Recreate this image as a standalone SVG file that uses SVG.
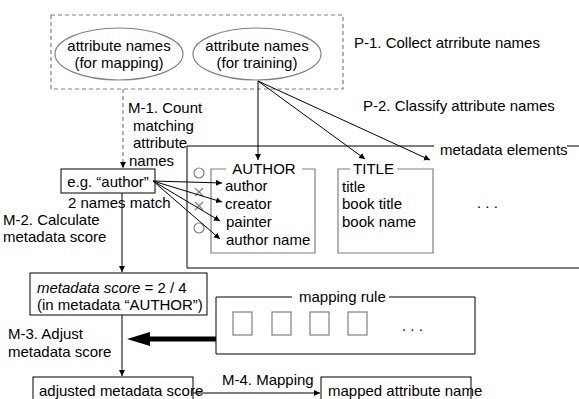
<svg xmlns="http://www.w3.org/2000/svg" width="579" height="399" viewBox="0 0 579 399">
<style>
text{font-family:"Liberation Sans",Arial,sans-serif;font-size:15px;fill:#000}
.ln{stroke:#000;stroke-width:1;fill:none}
.gr{stroke:#808080;stroke-width:1.2;fill:#fff}
.gro{stroke:#808080;stroke-width:1.2;fill:none}
.bx{stroke:#000;stroke-width:1;fill:#fff}
.dash{stroke:#808080;stroke-width:1.2;fill:none;stroke-dasharray:4 3}
</style>
<defs>
<marker id="ah" markerUnits="userSpaceOnUse" markerWidth="8" markerHeight="8" refX="6" refY="3" orient="auto">
<path d="M0,0 L6,3 L0,6 z" fill="#000"/>
</marker>
</defs>
<rect width="579" height="399" fill="#fff"/>

<g id="collect">
<rect class="dash" x="51" y="15" width="292" height="74"/>
<text x="354" y="48">P-1. Collect atrribute names</text>
</g>
<g id="names-mapping">
<ellipse class="gr" cx="119" cy="54" rx="64" ry="26"/>
<text x="119" y="51" text-anchor="middle">attribute names</text>
<text x="119" y="68" text-anchor="middle">(for mapping)</text>
</g>
<g id="names-training">
<ellipse class="gr" cx="257" cy="54" rx="64" ry="26"/>
<text x="257" y="51" text-anchor="middle">attribute names</text>
<text x="257" y="68" text-anchor="middle">(for training)</text>
</g>
<text x="363" y="111">P-2. Classify attribute names</text>

<g id="metadata-elements">
<path class="ln" d="M434,146 H187 V268 H579"/>
<path class="ln" d="M567,146 H579"/>
<text x="440" y="155">metadata elements</text>
<text x="477" y="208">. . .</text>
</g>
<g id="author">
<path class="gro" d="M226,169 H211 V253 H315 V169 H302"/>
<text x="264" y="174" text-anchor="middle">AUTHOR</text>
<text x="225" y="191">author</text>
<text x="225" y="209">creator</text>
<text x="226" y="227">painter</text>
<text x="226" y="245">author name</text>
<circle class="gro" cx="199" cy="173" r="5"/>
<path class="gro" d="M195,188 l8,8 M203,188 l-8,8 M195,202 l8,8 M203,202 l-8,8"/>
<circle class="gro" cx="199" cy="228" r="5"/>
</g>
<g id="title">
<path class="gro" d="M350,169 H338 V253 H433 V169 H397"/>
<text x="373.5" y="174" text-anchor="middle">TITLE</text>
<text x="342" y="192">title</text>
<text x="342" y="209">book title</text>
<text x="342" y="227">book name</text>
</g>

<g id="m1-label">
<text x="128" y="113">M-1. Count</text>
<text x="133" y="131">matching</text>
<text x="133" y="148">attribute</text>
<text x="129" y="166">names</text>
</g>
<g id="example">
<rect class="bx" x="61" y="169" width="94" height="24"/>
<text x="108" y="187" text-anchor="middle">e.g. “author”</text>
<text x="68" y="208">2 names match</text>
</g>
<g id="m2-label">
<text x="3" y="225">M-2. Calculate</text>
<text x="3" y="242">metadata score</text>
</g>
<g id="score">
<rect class="bx" x="30" y="273" width="177" height="42"/>
<text x="37" y="293"><tspan font-style="italic">metadata score</tspan> = 2 / 4</text>
<text x="37" y="310">(in metadata “AUTHOR”)</text>
</g>
<g id="m3-label">
<text x="8" y="339">M-3. Adjust</text>
<text x="8" y="357">metadata score</text>
</g>
<g id="mapping-rule">
<path class="ln" d="M292,297 H216 V354 H475 V297 H389"/>
<text x="299" y="302">mapping rule</text>
<rect class="gro" x="233" y="312" width="19" height="23"/>
<rect class="gro" x="272" y="312" width="19" height="23"/>
<rect class="gro" x="310" y="312" width="19" height="23"/>
<rect class="gro" x="348" y="312" width="19" height="23"/>
<text x="402" y="331">. . .</text>
</g>
<g id="adjusted">
<rect class="bx" x="33" y="377" width="160" height="30"/>
<text x="39" y="396">adjusted metadata score</text>
</g>
<g id="mapped">
<rect class="bx" x="321" y="377" width="150" height="30"/>
<text x="328" y="396">mapped attribute name</text>
</g>
<text x="222" y="385">M-4. Mapping</text>

<g id="connectors">
<line class="dash" x1="123" y1="89" x2="123" y2="168" marker-end="url(#ah)"/>
<line class="ln" x1="258" y1="81" x2="258" y2="160" marker-end="url(#ah)"/>
<line class="ln" x1="258" y1="81" x2="365" y2="159" marker-end="url(#ah)"/>
<line class="ln" x1="258" y1="81" x2="430" y2="160" marker-end="url(#ah)"/>
<line class="ln" x1="153" y1="181" x2="222" y2="183" marker-end="url(#ah)"/>
<line class="ln" x1="153" y1="181" x2="222" y2="202" marker-end="url(#ah)"/>
<line class="ln" x1="153" y1="181" x2="220" y2="221" marker-end="url(#ah)"/>
<line class="ln" x1="153" y1="181" x2="220" y2="239" marker-end="url(#ah)"/>
<line class="ln" x1="122" y1="193" x2="122" y2="272" marker-end="url(#ah)"/>
<line class="ln" x1="122" y1="315" x2="122" y2="376" marker-end="url(#ah)"/>
<line class="ln" x1="193" y1="393" x2="320" y2="393" marker-end="url(#ah)"/>
<line x1="216" y1="339" x2="146" y2="339" stroke="#000" stroke-width="5"/>
<polygon points="127,339 150,332 150,346" fill="#000"/>
</g>
</svg>
